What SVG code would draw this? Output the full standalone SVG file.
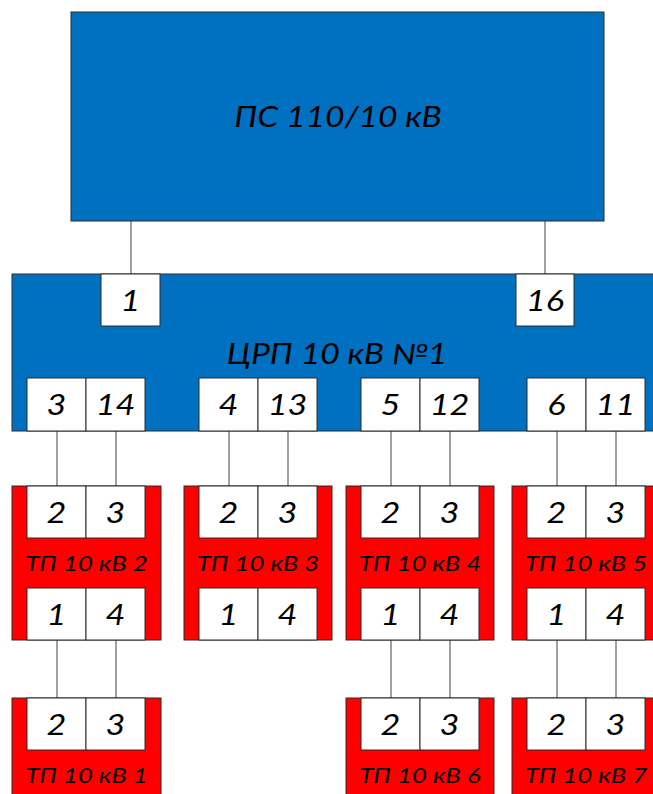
<svg xmlns="http://www.w3.org/2000/svg" width="653" height="794" viewBox="0 0 653 794">
<style>
.blue{fill:#0070C0;stroke:#2b2b2b;stroke-width:1}
.red{fill:#FF0000;stroke:#2b2b2b;stroke-width:1}
.port{fill:#fff;stroke:#2b2b2b;stroke-width:1}
.t{font-family:Lato,"Open Sans","Liberation Sans",sans-serif;font-style:italic;fill:#000;text-anchor:middle;transform-box:fill-box;transform-origin:center;transform:scaleX(1.2)}
.big{font-size:28px}
.num{font-size:28.5px}
.lbl{font-size:21.5px}
.wire{stroke:#808080;stroke-width:1.5;fill:none}
</style>
<rect width="653" height="794" fill="#fff"/>
<g id="connectors">
<line class="wire" x1="131" y1="221" x2="131" y2="274"/>
<line class="wire" x1="545" y1="221" x2="545" y2="274"/>
<line class="wire" x1="57" y1="431" x2="57" y2="486"/>
<line class="wire" x1="116" y1="431" x2="116" y2="486"/>
<line class="wire" x1="229" y1="431" x2="229" y2="486"/>
<line class="wire" x1="288" y1="431" x2="288" y2="486"/>
<line class="wire" x1="391" y1="431" x2="391" y2="486"/>
<line class="wire" x1="450" y1="431" x2="450" y2="486"/>
<line class="wire" x1="557" y1="431" x2="557" y2="486"/>
<line class="wire" x1="616" y1="431" x2="616" y2="486"/>
<line class="wire" x1="57" y1="640" x2="57" y2="698"/>
<line class="wire" x1="116" y1="640" x2="116" y2="698"/>
<line class="wire" x1="391" y1="640" x2="391" y2="698"/>
<line class="wire" x1="450" y1="640" x2="450" y2="698"/>
<line class="wire" x1="557" y1="640" x2="557" y2="698"/>
<line class="wire" x1="616" y1="640" x2="616" y2="698"/>
</g>
<g id="ps">
<rect class="blue" x="71" y="12" width="533" height="209"/>
<text class="t big" x="338" y="127">ПС 110/10 кВ</text>
</g>
<g id="crp">
<rect class="blue" x="12" y="274" width="660" height="157"/>
<text class="t big" x="337" y="364">ЦРП 10 кВ №1</text>
<rect class="port" x="101" y="274" width="59" height="52"/><text class="t num" x="130.5" y="311">1</text>
<rect class="port" x="516" y="274" width="58" height="52"/><text class="t num" x="545" y="311">16</text>
<rect class="port" x="27" y="378" width="59" height="53"/><text class="t num" x="56.5" y="415">3</text>
<rect class="port" x="86" y="378" width="59" height="53"/><text class="t num" x="115.5" y="415">14</text>
<rect class="port" x="199" y="378" width="59" height="53"/><text class="t num" x="228.5" y="415">4</text>
<rect class="port" x="258" y="378" width="59" height="53"/><text class="t num" x="287.5" y="415">13</text>
<rect class="port" x="361" y="378" width="59" height="53"/><text class="t num" x="390.5" y="415">5</text>
<rect class="port" x="420" y="378" width="59" height="53"/><text class="t num" x="449.5" y="415">12</text>
<rect class="port" x="527" y="378" width="59" height="53"/><text class="t num" x="556.5" y="415">6</text>
<rect class="port" x="586" y="378" width="59" height="53"/><text class="t num" x="615.5" y="415">11</text>
</g>
<g id="tp2">
<rect class="red" x="12" y="486" width="149" height="154"/>
<rect class="port" x="27" y="486" width="59" height="52"/><text class="t num" x="56.5" y="523">2</text>
<rect class="port" x="86" y="486" width="59" height="52"/><text class="t num" x="115.5" y="523">3</text>
<text class="t lbl" x="86.5" y="571">ТП 10 кВ 2</text>
<rect class="port" x="27" y="588" width="59" height="52"/><text class="t num" x="56.5" y="625">1</text>
<rect class="port" x="86" y="588" width="59" height="52"/><text class="t num" x="115.5" y="625">4</text>
</g>
<g id="tp3">
<rect class="red" x="184" y="486" width="148" height="154"/>
<rect class="port" x="199" y="486" width="59" height="52"/><text class="t num" x="228.5" y="523">2</text>
<rect class="port" x="258" y="486" width="59" height="52"/><text class="t num" x="287.5" y="523">3</text>
<text class="t lbl" x="258" y="571">ТП 10 кВ 3</text>
<rect class="port" x="199" y="588" width="59" height="52"/><text class="t num" x="228.5" y="625">1</text>
<rect class="port" x="258" y="588" width="59" height="52"/><text class="t num" x="287.5" y="625">4</text>
</g>
<g id="tp4">
<rect class="red" x="346" y="486" width="148" height="154"/>
<rect class="port" x="361" y="486" width="59" height="52"/><text class="t num" x="390.5" y="523">2</text>
<rect class="port" x="420" y="486" width="59" height="52"/><text class="t num" x="449.5" y="523">3</text>
<text class="t lbl" x="420" y="571">ТП 10 кВ 4</text>
<rect class="port" x="361" y="588" width="59" height="52"/><text class="t num" x="390.5" y="625">1</text>
<rect class="port" x="420" y="588" width="59" height="52"/><text class="t num" x="449.5" y="625">4</text>
</g>
<g id="tp5">
<rect class="red" x="512" y="486" width="148" height="154"/>
<rect class="port" x="527" y="486" width="59" height="52"/><text class="t num" x="556.5" y="523">2</text>
<rect class="port" x="586" y="486" width="59" height="52"/><text class="t num" x="615.5" y="523">3</text>
<text class="t lbl" x="586" y="571">ТП 10 кВ 5</text>
<rect class="port" x="527" y="588" width="59" height="52"/><text class="t num" x="556.5" y="625">1</text>
<rect class="port" x="586" y="588" width="59" height="52"/><text class="t num" x="615.5" y="625">4</text>
</g>
<g id="tp1">
<rect class="red" x="12" y="698" width="149" height="110"/>
<rect class="port" x="27" y="698" width="59" height="52"/><text class="t num" x="56.5" y="735">2</text>
<rect class="port" x="86" y="698" width="59" height="52"/><text class="t num" x="115.5" y="735">3</text>
<text class="t lbl" x="86.5" y="783">ТП 10 кВ 1</text>
</g>
<g id="tp6">
<rect class="red" x="346" y="698" width="148" height="110"/>
<rect class="port" x="361" y="698" width="59" height="52"/><text class="t num" x="390.5" y="735">2</text>
<rect class="port" x="420" y="698" width="59" height="52"/><text class="t num" x="449.5" y="735">3</text>
<text class="t lbl" x="420" y="783">ТП 10 кВ 6</text>
</g>
<g id="tp7">
<rect class="red" x="512" y="698" width="148" height="110"/>
<rect class="port" x="527" y="698" width="59" height="52"/><text class="t num" x="556.5" y="735">2</text>
<rect class="port" x="586" y="698" width="59" height="52"/><text class="t num" x="615.5" y="735">3</text>
<text class="t lbl" x="586" y="783">ТП 10 кВ 7</text>
</g>
</svg>
